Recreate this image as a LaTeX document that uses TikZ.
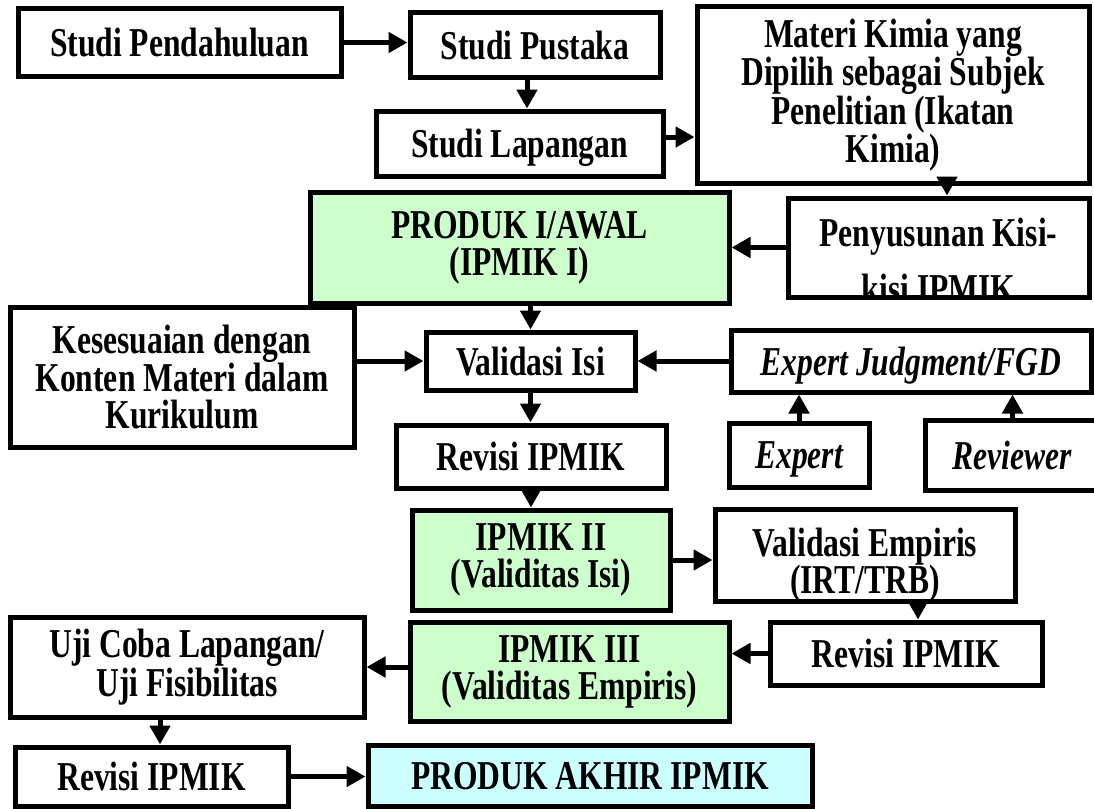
\documentclass[tikz,border=0pt]{standalone}
\usepackage{fontspec}
\setmainfont{Liberation Serif}
\newfontfamily\tfont[FakeStretch=0.77]{Liberation Serif}
\usetikzlibrary{arrows.meta,calc}
\definecolor{pgreen}{RGB}{204,255,204}
\definecolor{pcyan}{RGB}{204,255,255}
\tikzset{
  box/.style={draw, line width=5pt, inner sep=0pt, align=center,
    font=\tfont\fontsize{41}{37}\selectfont\bfseries},
  box1/.style={box, text depth=0pt},
  gbox/.style={box, fill=pgreen},
  cbox/.style={box1, fill=pcyan},
  ibox/.style={box1, font=\tfont\fontsize{41}{37}\selectfont\bfseries\itshape},
  txt/.style={inner sep=0pt, anchor=base, text height=27pt, text depth=0pt,
    font=\tfont\fontsize{41}{37}\selectfont\bfseries},
  arr/.style={line width=5pt, -{Triangle[length=19pt,width=20pt]}},
}
\newcommand\mybox[7]{\node[#6, minimum width={(#4-#2)*1pt}, minimum height={(#5-#3)*1pt}] (#1) at ({(#2+#4)/2},{(#3+#5)/2}) {#7};}
\begin{document}
\begin{tikzpicture}[x=1pt,y=-1pt]
\useasboundingbox[fill=white] (0,0) rectangle (1094,808);
% boxes
\mybox{pend}{18}{9}{341}{76}{box1}{Studi Pendahuluan}
\mybox{pust}{410}{13}{660}{77}{box1}{Studi Pustaka}
\mybox{lap}{376}{111}{663}{176}{box1}{Studi Lapangan}
\mybox{mat}{697}{7}{1089}{183}{box}{Materi Kimia yang\\Dipilih sebagai Subjek\\Penelitian (Ikatan\\Kimia)}
\begin{scope}
  \clip (790.5,200.5) rectangle (1086.5,294.5);
  \node[txt] (penA) at (938.5,246) {Penyusunan Kisi-};
  \node[txt] (penB) at (938.5,302) {kisi IPMIK};
\end{scope}
\mybox{pen}{788}{198}{1089}{297}{box}{}
\mybox{prod1}{310}{192}{729}{303}{gbox}{PRODUK I/AWAL\\(IPMIK I)}
\mybox{kes}{10}{307}{354}{447}{box}{Kesesuaian dengan\\Konten Materi dalam\\Kurikulum}
\mybox{val}{426}{332}{635}{390}{box1}{Validasi Isi}
\mybox{ej}{731}{330}{1091}{392}{ibox}{Expert Judgment/FGD}
\mybox{rev1}{396}{425}{666}{488}{box1}{Revisi IPMIK}
\mybox{exp}{729}{423}{869}{487}{ibox}{Expert}
\mybox{revw}{925}{420}{1100}{490}{ibox}{Reviewer}
\mybox{ipm2}{412}{510}{670}{610}{gbox}{IPMIK II\\(Validitas Isi)}
\begin{scope}
  \clip (717.5,511.5) rectangle (1012.5,598.5);
  \node[txt] (veA) at (865,556) {Validasi Empiris};
  \node[txt] (veB) at (865,593) {(IRT/TRB)};
\end{scope}
\mybox{ve}{715}{509}{1015}{601}{box}{}
\mybox{rev2}{770}{622}{1042}{685}{box1}{Revisi IPMIK}
\mybox{ipm3}{410}{622}{729}{721}{gbox}{IPMIK III\\(Validitas Empiris)}
\mybox{uji}{10}{617}{364}{717}{box}{Uji Coba Lapangan/\\Uji Fisibilitas}
\mybox{rev3}{15}{747}{288}{806}{box1}{Revisi IPMIK}
\mybox{akhir}{368}{745}{812}{806}{cbox}{PRODUK AKHIR IPMIK}
% arrows
\draw[arr] (pend.east) -- (pend.east -| pust.west);
\draw[arr] ([xshift=-8pt]pust.south) -- ([xshift=-8pt]pust.south |- lap.north);
\draw[arr] ([yshift=6.5pt]lap.east) -- ([yshift=6.5pt]lap.east -| mat.west);
\draw[arr] ([xshift=54pt]mat.south) -- ([xshift=54pt]mat.south |- pen.north);
\draw[arr] (pen.west) -- (pen.west -| prod1.east);
\draw[arr] (val.north |- prod1.south) -- (val.north);
\draw[arr] (kes.east |- val.west) -- (val.west);
\draw[arr] (ej.west |- val.east) -- (val.east);
\draw[arr] (val.south) -- (val.south |- rev1.north);
\draw[arr] (exp.north) -- (exp.north |- ej.south);
\draw[arr] (revw.north) -- (revw.north |- ej.south);
\draw[arr] (rev1.south) -- (rev1.south |- ipm2.north);
\draw[arr] (ipm2.east) -- (ipm2.east -| ve.west);
\draw[arr] ([xshift=53pt]ve.south) -- ([xshift=53pt]ve.south |- rev2.north);
\draw[arr] (rev2.west) -- (rev2.west -| ipm3.east);
\draw[arr] (ipm3.west |- uji.east) -- (uji.east);
\draw[arr] ([xshift=-27pt]uji.south) -- ([xshift=-27pt]uji.south |- rev3.north);
\draw[arr] (rev3.east) -- (rev3.east -| akhir.west);
\end{tikzpicture}
\end{document}
